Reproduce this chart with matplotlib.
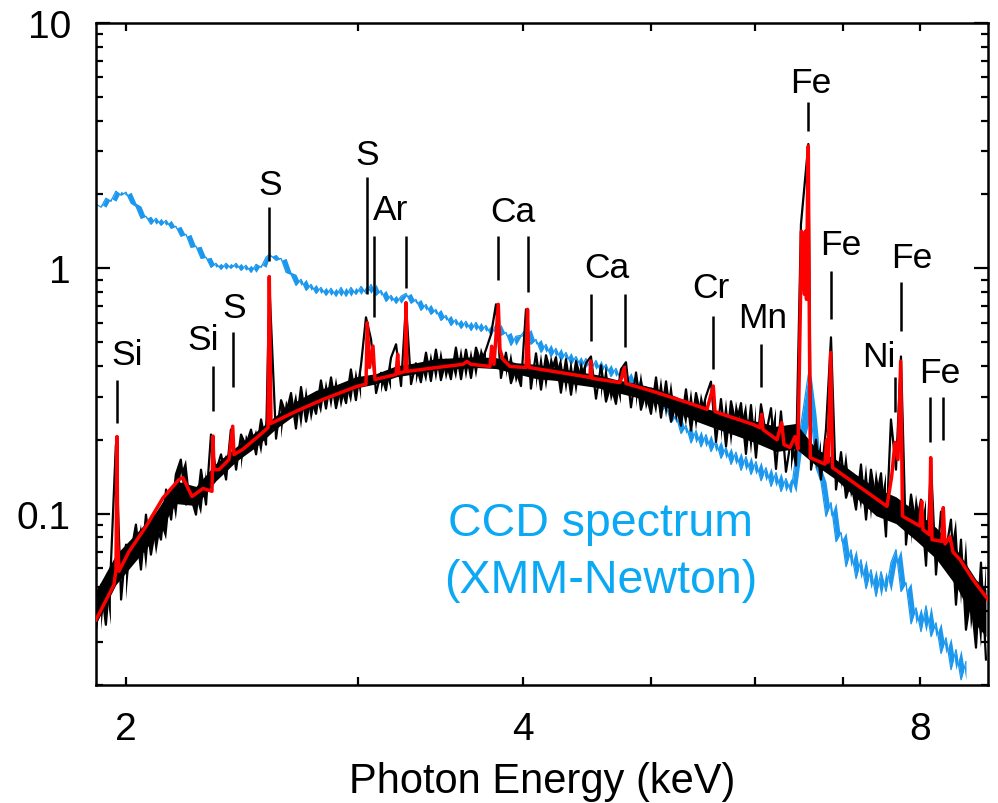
import matplotlib
matplotlib.use("Agg")
import matplotlib.pyplot as plt
from matplotlib.ticker import FixedLocator, FixedFormatter, NullFormatter, LogLocator

plt.rcParams['font.family'] = ['Liberation Sans', 'DejaVu Sans']

# Channel energies (keV) shared by the two measured spectra
channel_kev = [
    1.898, 1.915, 1.931, 1.948, 1.965, 1.983, 2.000, 2.018, 2.035, 2.053,
    2.071, 2.089, 2.108, 2.126, 2.145, 2.164, 2.182, 2.201, 2.221, 2.240,
    2.260, 2.280, 2.300, 2.320, 2.340, 2.361, 2.382, 2.402, 2.424, 2.445,
    2.466, 2.488, 2.510, 2.532, 2.554, 2.569, 2.599, 2.622, 2.645, 2.668,
    2.691, 2.715, 2.739, 2.763, 2.787, 2.811, 2.836, 2.861, 2.886, 2.911,
    2.937, 2.962, 2.988, 3.015, 3.041, 3.068, 3.095, 3.122, 3.149, 3.177,
    3.205, 3.233, 3.261, 3.290, 3.318, 3.347, 3.377, 3.406, 3.436, 3.466,
    3.497, 3.527, 3.558, 3.590, 3.621, 3.653, 3.685, 3.717, 3.750, 3.783,
    3.816, 3.849, 3.883, 3.917, 3.951, 3.986, 4.021, 4.056, 4.092, 4.128,
    4.164, 4.200, 4.237, 4.274, 4.312, 4.350, 4.388, 4.426, 4.465, 4.504,
    4.544, 4.584, 4.624, 4.664, 4.705, 4.746, 4.788, 4.830, 4.873, 4.915,
    4.958, 5.002, 5.046, 5.090, 5.135, 5.180, 5.225, 5.271, 5.317, 5.364,
    5.411, 5.458, 5.506, 5.554, 5.603, 5.652, 5.702, 5.752, 5.802, 5.853,
    5.904, 5.956, 6.008, 6.061, 6.114, 6.168, 6.222, 6.276, 6.331, 6.387,
    6.443, 6.499, 6.583, 6.614, 6.672, 6.730, 6.789, 6.849, 6.909, 6.970,
    7.031, 7.092, 7.155, 7.217, 7.281, 7.344, 7.409, 7.474, 7.539, 7.605,
    7.672, 7.739, 7.807, 7.876, 7.945, 8.014, 8.085, 8.156, 8.227, 8.299,
    8.372, 8.445, 8.519, 8.594, 8.669, 8.745, 8.822, 8.899, 8.977,
]

# High-resolution spectrum (black), one value per channel
obs_flux = [
    0.0336, 0.0513, 0.0352, 0.0619, 0.191, 0.0446, 0.0747, 0.0695, 0.0902, 0.0591,
    0.0990, 0.0680, 0.0902, 0.0783, 0.1253, 0.0945, 0.1443, 0.166, 0.1088, 0.117,
    0.0990, 0.151, 0.1088, 0.210, 0.148, 0.1743, 0.1376, 0.220, 0.151, 0.210,
    0.189, 0.220, 0.1743, 0.242, 0.191, 0.860, 0.202, 0.290, 0.254, 0.310,
    0.222, 0.328, 0.237, 0.300, 0.255, 0.349, 0.268, 0.359, 0.269, 0.334,
    0.282, 0.387, 0.290, 0.405, 0.631, 0.513, 0.310, 0.375, 0.318, 0.432,
    0.490, 0.331, 0.713, 0.337, 0.410, 0.343, 0.453, 0.347, 0.466, 0.350,
    0.424, 0.353, 0.475, 0.353, 0.466, 0.357, 0.475, 0.412, 0.466, 0.538,
    0.713, 0.357, 0.453, 0.340, 0.390, 0.331, 0.680, 0.323, 0.450, 0.320,
    0.442, 0.373, 0.434, 0.311, 0.426, 0.305, 0.418, 0.352, 0.410, 0.437,
    0.294, 0.402, 0.286, 0.336, 0.280, 0.387, 0.414, 0.271, 0.376, 0.265,
    0.312, 0.255, 0.359, 0.246, 0.346, 0.237, 0.279, 0.228, 0.321, 0.218,
    0.310, 0.251, 0.301, 0.345, 0.196, 0.293, 0.188, 0.287, 0.229, 0.282,
    0.175, 0.277, 0.169, 0.279, 0.210, 0.269, 0.152, 0.261, 0.148, 0.200,
    0.157, 1.512, 3.21, 0.151, 0.200, 0.1376, 0.220, 0.523, 0.1253, 0.178,
    0.116, 0.136, 0.1038, 0.1586, 0.0945, 0.151, 0.112, 0.146, 0.0806, 0.242,
    0.151, 0.437, 0.0747, 0.1196, 0.0885, 0.114, 0.0613, 0.1586, 0.0564, 0.1019,
    0.0706, 0.0945, 0.0425, 0.0783, 0.0336, 0.0462, 0.0284, 0.0631, 0.0254,
]
# Channels that sit on an emission line
line_channels = [4, 23, 27, 35, 54, 55, 60, 62, 79, 80, 86, 99, 106, 123, 133,
                 137, 141, 142, 146, 147, 159, 161, 167, 169]

# Core of the channel-to-channel scatter of the black spectrum
band_kev = [
    1.898, 1.965, 2.035, 2.108, 2.182, 2.260, 2.340, 2.424, 2.510, 2.599,
    2.691, 2.787, 2.886, 2.988, 3.095, 3.205, 3.318, 3.436, 3.558, 3.685,
    3.816, 3.951, 4.092, 4.237, 4.388, 4.544, 4.705, 4.873, 5.046, 5.225,
    5.411, 5.603, 5.802, 6.008, 6.222, 6.443, 6.672, 6.909, 7.155, 7.409,
    7.672, 7.945, 8.227, 8.519, 8.822, 8.977,
]
band_hi = [
    0.0485, 0.0680, 0.0829, 0.1019, 0.136, 0.129, 0.1601, 0.187, 0.216, 0.251,
    0.287, 0.318, 0.335, 0.361, 0.372, 0.400, 0.412, 0.428, 0.432, 0.436,
    0.432, 0.412, 0.406, 0.394, 0.380, 0.369, 0.352, 0.339, 0.324, 0.300,
    0.276, 0.261, 0.249, 0.238, 0.227, 0.233, 0.184, 0.166, 0.1443, 0.127,
    0.117, 0.1019, 0.0877, 0.0720, 0.0538, 0.0490,
]
band_lo = [
    0.0355, 0.0513, 0.0643, 0.0806, 0.1098, 0.1078, 0.136, 0.163, 0.187, 0.222,
    0.254, 0.287, 0.302, 0.325, 0.338, 0.361, 0.372, 0.386, 0.390, 0.394,
    0.390, 0.372, 0.355, 0.349, 0.336, 0.327, 0.312, 0.298, 0.282, 0.261,
    0.238, 0.222, 0.208, 0.194, 0.179, 0.184, 0.157, 0.1376, 0.116, 0.098,
    0.091, 0.0776, 0.0655, 0.0508, 0.0352, 0.0315,
]

# CCD spectrum (XMM-Newton), blue; covers the first channels up to 8.67 keV
ccd_flux = [
    1.825, 1.774, 1.931, 1.877, 2.062, 1.986, 2.043, 1.842, 1.791, 1.600,
    1.630, 1.512, 1.600, 1.498, 1.570, 1.456, 1.484, 1.351, 1.376, 1.218,
    1.230, 1.098, 1.109, 1.009, 1.048, 0.991, 1.048, 1.000, 1.048, 0.981,
    1.029, 0.963, 1.038, 1.009, 1.109, 1.140, 1.078, 1.098, 0.963, 0.945,
    0.852, 0.902, 0.813, 0.860, 0.790, 0.836, 0.776, 0.829, 0.769, 0.836,
    0.769, 0.836, 0.783, 0.844, 0.790, 0.860, 0.776, 0.813, 0.733, 0.776,
    0.720, 0.769, 0.790, 0.720, 0.747, 0.674, 0.713, 0.649, 0.680, 0.613,
    0.643, 0.585, 0.619, 0.569, 0.608, 0.558, 0.602, 0.553, 0.585, 0.533,
    0.591, 0.533, 0.548, 0.485, 0.528, 0.533, 0.564, 0.490, 0.513, 0.454,
    0.490, 0.437, 0.472, 0.421, 0.454, 0.406, 0.437, 0.394, 0.429, 0.387,
    0.421, 0.376, 0.406, 0.362, 0.391, 0.349, 0.376, 0.333, 0.355, 0.306,
    0.330, 0.282, 0.303, 0.259, 0.276, 0.235, 0.251, 0.212, 0.229, 0.194,
    0.218, 0.187, 0.210, 0.179, 0.198, 0.168, 0.186, 0.1586, 0.178, 0.150,
    0.171, 0.1443, 0.163, 0.136, 0.154, 0.129, 0.147, 0.123, 0.139, 0.122,
    0.1743, 0.231, 0.369, 0.254, 0.154, 0.135, 0.0973, 0.111, 0.0768, 0.0838,
    0.0607, 0.0713, 0.0543, 0.0649, 0.0494, 0.0591, 0.0459, 0.0580, 0.0481, 0.0631,
    0.0713, 0.0481, 0.0523, 0.0355, 0.0413, 0.0330, 0.0421, 0.0315, 0.0359, 0.0269,
    0.0312, 0.0231, 0.0279, 0.0210, 0.0249,
]

# Best-fit plasma model (red)
model_kev = [
    1.898, 1.9585, 1.9654, 1.9688, 1.9712, 1.9757, 2.0105, 2.0711, 2.1335, 2.1939,
    2.2093, 2.2443, 2.2878, 2.3240, 2.3281, 2.3322, 2.3526, 2.3941, 2.4096, 2.4151,
    2.4520, 2.5391, 2.5627, 2.5686, 2.5762, 2.6911, 2.8210, 2.9936, 3.0410, 3.0479,
    3.0596, 3.0784, 3.0891, 3.2045, 3.2140, 3.2213, 3.2552, 3.2609, 3.2667, 3.4423,
    3.6022, 3.6274, 3.6529, 3.7760, 3.7872, 3.8025, 3.8312, 3.8425, 3.8627, 3.9102,
    4.0210, 4.0318, 4.0423, 4.2153, 4.4966, 4.5021, 4.5124, 4.7385, 4.7742, 4.7881,
    5.0193, 5.3263, 5.5156, 5.5766, 5.5932, 5.6421, 5.9769, 6.0503, 6.0683, 6.0821,
    6.2327, 6.2841, 6.3093, 6.3757, 6.4316, 6.4654, 6.4937, 6.5051, 6.5164, 6.5278,
    6.5392, 6.5506, 6.5621, 6.5736, 6.5828, 6.5931, 6.6058, 6.7775, 6.7976, 6.8131,
    6.8453, 6.8669, 7.5524, 7.6147, 7.6586, 7.6989, 7.7353, 7.7596, 8.000, 8.0241,
    8.0423, 8.1341, 8.1511, 8.1697, 8.3136, 8.3324, 8.3572, 8.4305, 8.4748, 8.5789,
    8.7759, 9.0088,
]
model_flux = [
    0.0369, 0.0513, 0.0591, 0.206, 0.0788, 0.0582, 0.0700, 0.0886, 0.1159, 0.1376,
    0.140, 0.1174, 0.1266, 0.1232, 0.207, 0.151, 0.151, 0.166, 0.227, 0.174,
    0.1825, 0.214, 0.224, 0.925, 0.233, 0.261, 0.292, 0.330, 0.337, 0.600,
    0.394, 0.482, 0.352, 0.369, 0.446, 0.373, 0.380, 0.724, 0.380, 0.394,
    0.406, 0.417, 0.406, 0.398, 0.481, 0.406, 0.713, 0.467, 0.425, 0.398,
    0.394, 0.680, 0.394, 0.380, 0.359, 0.419, 0.356, 0.342, 0.393, 0.339,
    0.315, 0.284, 0.266, 0.331, 0.261, 0.256, 0.231, 0.224, 0.254, 0.220,
    0.200, 0.235, 0.191, 0.186, 0.206, 0.183, 0.747, 1.416, 0.821, 1.313,
    0.783, 1.416, 0.747, 1.912, 3.15, 0.747, 0.169, 0.159, 0.200, 0.162,
    0.454, 0.154, 0.107, 0.142, 0.195, 0.166, 0.418, 0.0976, 0.0889, 0.1123,
    0.086, 0.0820, 0.169, 0.0783, 0.0770, 0.1057, 0.0752, 0.0804, 0.0697, 0.0649,
    0.0538, 0.0446,
]

# Line identifications: element labels and their marker bars
label_text = ['Si', 'Si', 'S', 'S', 'S', 'Ar', 'Ca', 'Ca', 'Cr', 'Mn',
              'Fe', 'Fe', 'Fe', 'Ni', 'Fe']
label_kev = [2.0035, 2.2878, 2.4151, 2.5745, 3.0463, 3.1767, 3.9307, 4.6320,
             5.5542, 6.0821, 6.6139, 6.9696, 7.8894, 7.4477, 8.2846]
label_base = [0.4056, 0.467, 0.631, 2.005, 2.658, 1.585, 1.555, 0.919,
              0.761, 0.574, 5.23, 1.140, 1.009, 0.398, 0.345]

mark_kev = [1.969, 2.328, 2.410, 2.569, 3.046, 3.084, 3.261, 3.830, 4.035, 4.504,
            4.776, 5.574, 6.061, 6.583, 6.849, 7.660, 7.745, 8.141, 8.330]
mark_top = [0.352, 0.398, 0.548, 1.774, 2.352, 1.351, 1.351, 1.351, 1.351, 0.783,
            0.783, 0.637, 0.490, 4.76, 0.972, 0.362, 0.877, 0.300, 0.300]
mark_bottom = [0.235, 0.261, 0.327, 1.068, 0.783, 0.631, 0.829, 0.900, 0.798, 0.504,
               0.476, 0.387, 0.327, 3.62, 0.619, 0.259, 0.553, 0.196, 0.200]

ccd_label = ['CCD spectrum', '(XMM-Newton)']
ccd_label_kev = 4.5836
ccd_label_base = [0.0821, 0.0480]

x_tick_vals = [2, 4, 8]
x_tick_text = ['2', '4', '8']
x_minor_vals = [3, 5, 6, 7]
y_tick_vals = [0.1, 1, 10]
y_tick_text = ['0.1', '1', '10']

BLUE_LINE = '#1C97EE'
BLUE_TEXT = '#0BA8F4'

fig = plt.figure(figsize=(9.98, 8.04), dpi=100)
ax = fig.add_axes([96 / 998, 1 - 686 / 804, 892 / 998, 662 / 804])

# CCD spectrum: shade the spread between neighbouring channels, then the trace
ccd_kev = channel_kev[:len(ccd_flux)]
ax.fill_between(ccd_kev[1:], ccd_flux[:-1], ccd_flux[1:], color=BLUE_LINE, lw=0, zorder=2)
ax.plot(ccd_kev, ccd_flux, color=BLUE_LINE, lw=0.9, zorder=2)

# High-resolution spectrum: scatter core, neighbour spread (skipping line peaks), trace
ax.fill_between(band_kev, band_lo, band_hi, color='black', lw=0, zorder=3)
spread_ok = [not (j in line_channels or j + 1 in line_channels)
             for j in range(len(obs_flux) - 1)]
ax.fill_between(channel_kev[1:], obs_flux[:-1], obs_flux[1:], where=spread_ok,
                color='black', lw=0, zorder=3)
ax.plot(channel_kev, obs_flux, color='black', lw=1.6, zorder=3)

ax.plot(model_kev, model_flux, color='#FF0000', lw=2.5, zorder=4)

ax.vlines(mark_kev, mark_bottom, mark_top, colors='black', lw=1.8, zorder=5)
for txt, e, b in zip(label_text, label_kev, label_base):
    ax.text(e, b, txt, ha='center', va='baseline', fontsize=25.5, color='black', zorder=6)
for txt, b in zip(ccd_label, ccd_label_base):
    ax.text(ccd_label_kev, b, txt, ha='center', va='baseline', fontsize=33.5,
            color=BLUE_TEXT, zorder=6)

ax.set_xscale('log')
ax.set_yscale('log')
ax.set_xlim(1.898, 9.009)
ax.set_ylim(0.02, 10)

ax.xaxis.set_major_locator(FixedLocator(x_tick_vals))
ax.xaxis.set_major_formatter(FixedFormatter(x_tick_text))
ax.xaxis.set_minor_locator(FixedLocator(x_minor_vals))
ax.xaxis.set_minor_formatter(NullFormatter())
ax.yaxis.set_major_locator(FixedLocator(y_tick_vals))
ax.yaxis.set_major_formatter(FixedFormatter(y_tick_text))
ax.yaxis.set_minor_locator(LogLocator(base=10, subs=(2, 3, 4, 5, 6, 7, 8, 9)))
ax.yaxis.set_minor_formatter(NullFormatter())

ax.tick_params(which='both', direction='in', top=True, right=True, width=1.6,
               colors='black', labelsize=28)
ax.tick_params(axis='x', which='both', length=6, pad=19)
ax.tick_params(axis='y', which='major', length=10, pad=18)
ax.tick_params(axis='y', which='minor', length=5)

for s in ax.spines.values():
    s.set_linewidth(1.8)

ax.set_xlabel('Photon Energy (keV)', fontsize=30, labelpad=10)

fig.savefig('out.png', dpi=100)
